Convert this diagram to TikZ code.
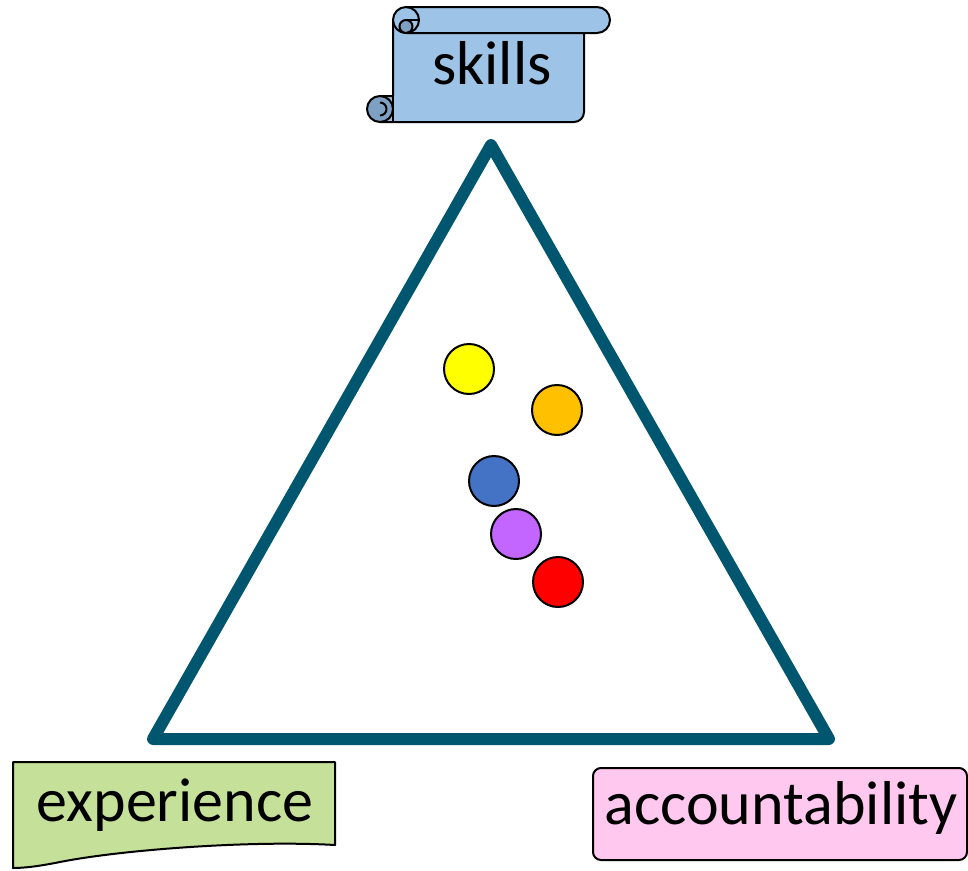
\documentclass[tikz,border=0pt]{standalone}
\usepackage{fontspec}
\setmainfont{Carlito}
\definecolor{tri}{RGB}{0,86,110}
\definecolor{scrollblue}{RGB}{157,195,230}
\definecolor{scrolldark}{RGB}{125,160,195}
\definecolor{expgreen}{RGB}{197,224,152}
\definecolor{accpink}{RGB}{255,200,238}
\definecolor{dotyellow}{RGB}{255,255,0}
\definecolor{dotorange}{RGB}{255,192,0}
\definecolor{dotblue}{RGB}{68,114,196}
\definecolor{dotpurple}{RGB}{194,102,255}
\definecolor{dotred}{RGB}{255,0,0}
\tikzset{
  dot/.style={circle, draw=black, line width=2pt, minimum size=50pt, inner sep=0pt},
  label text/.style={font=\fontsize{62}{62}\selectfont, inner sep=0pt},
  outl/.style={draw=black, line width=2pt, line join=round}
}
\begin{document}
\begin{tikzpicture}[x=1pt,y=-1pt]
\useasboundingbox (0,0) rectangle (968,870);
% triangle
\coordinate (apex) at (491,145);
\coordinate (bl) at (153,739);
\coordinate (br) at (829,739);
\draw[tri, line width=12pt, line join=round] (apex) -- (br) -- (bl) -- cycle;
% dots
\node[dot, fill=dotyellow] (yellow) at (469,369) {};
\node[dot, fill=dotorange] (orange) at (557,410) {};
\node[dot, fill=dotblue] (blue) at (494,481) {};
\node[dot, fill=dotpurple] (purple) at (516,534) {};
\node[dot, fill=dotred] (red) at (558,582) {};
% scroll (skills)
\path[outl, fill=scrollblue] (393,20) -- (584,20) [rounded corners=10pt] -- (584,122) [sharp corners] -- (380,122) -- (380,96) -- (393,96) -- cycle;
\path[outl, fill=scrollblue, rounded corners=13pt] (393,7) rectangle (610,33);
\path[outl, fill=scrolldark] (406,26.5) circle (6.5);
\draw[outl] (406,20) -- (419,20);
\draw[outl] (406,7) arc (-90:90:13);
\path[outl, fill=scrolldark] (380,109) circle (13);
\draw[outl] (380,102.5) arc (-90:90:6.5);
\draw[outl] (393,96) -- (393,122);
\node[label text] (skills) at (492,63) {skills};
% experience (document shape)
\path[outl, fill=expgreen] (13,762) -- (335,762) -- (335,845) .. controls (250,840) and (120,850) .. (60,862) .. controls (40,866) and (25,868) .. (13,868) -- cycle;
\node[label text] (experience) at (175,805) {experience};
% accountability
\path[outl, fill=accpink, rounded corners=8pt] (593,768) rectangle (967,860);
\node[label text] (accountability) at (781,808) {accountability};
\end{tikzpicture}
\end{document}
